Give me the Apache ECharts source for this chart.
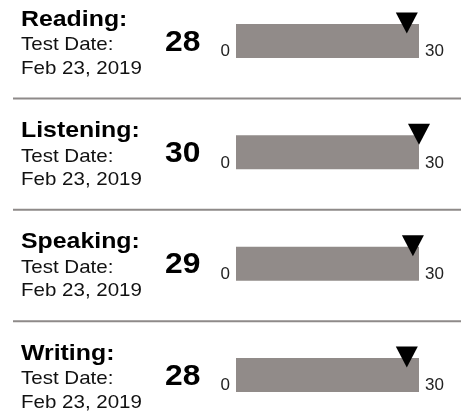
<!DOCTYPE html>
<html>
<head>
<meta charset="utf-8">
<script src="https://cdn.jsdelivr.net/npm/echarts@6/dist/echarts.min.js"></script>
<style>
html,body{margin:0;padding:0;background:#fff;}
#chart{width:461px;height:419px;}
</style>
</head>
<body>
<div id="chart"></div>
<script>
// ---- data ----
const subjects = ['Reading:', 'Listening:', 'Speaking:', 'Writing:'];
const dateCaption = 'Test Date:';
const testDates = ['Feb 23, 2019', 'Feb 23, 2019', 'Feb 23, 2019', 'Feb 23, 2019'];
const scores = [28, 30, 29, 28];
const scaleMin = 0;
const scaleMax = 30;
const tickValues = [0, 30];
const tickLabels = ['0', '30'];

// ---- layout ----
const PANEL_STEP = 111.33;
const BAR_TOP = 24;
const BAR_H = 34;
const BAR_LEFT = 236;
const BAR_W = 183;
const FONT = '"Liberation Sans", Arial, Helvetica, sans-serif';
const BAR_COLOR = '#918b89';
const RULE_COLOR = '#8e8a89';

const grids = [], xAxes = [], yAxes = [], series = [], graphics = [];

subjects.forEach((name, i) => {
  const dy = i * PANEL_STEP;
  grids.push({ left: BAR_LEFT, top: BAR_TOP + dy, width: BAR_W, height: BAR_H, containLabel: false });
  xAxes.push({
    gridIndex: i, type: 'value', min: scaleMin, max: scaleMax, interval: scaleMax - scaleMin,
    axisLine: { show: false }, axisTick: { show: false }, splitLine: { show: false },
    axisLabel: {
      show: true, margin: -6.5, verticalAlign: 'middle', padding: [0, 6, 0, 6],
      alignMinLabel: 'right', alignMaxLabel: 'left',
      fontFamily: FONT, fontSize: 17, color: '#222',
      formatter: v => {
        const k = tickValues.indexOf(v);
        return k < 0 ? '' : tickLabels[k];
      }
    }
  });
  yAxes.push({ gridIndex: i, type: 'category', data: [name], show: false });
  series.push({
    type: 'bar', xAxisIndex: i, yAxisIndex: i, data: [scaleMax], barWidth: BAR_H,
    itemStyle: { color: BAR_COLOR }, silent: true, animation: false
  });
  series.push({
    type: 'scatter', xAxisIndex: i, yAxisIndex: i, data: [scores[i]],
    symbol: 'triangle', symbolRotate: 180, symbolSize: [22, 21], symbolOffset: [0, -18],
    itemStyle: { color: '#000', opacity: 1 }, silent: true, animation: false, z: 5
  });

  // texts
  graphics.push({ type: 'text', x: 21, y: 19.5 + dy, scaleX: 1.13,
    style: { text: name, font: 'bold 22px ' + FONT, fill: '#000', verticalAlign: 'middle' } });
  graphics.push({ type: 'text', x: 21, y: 45 + dy, scaleX: 1.08,
    style: { text: dateCaption, font: '19px ' + FONT, fill: '#111', verticalAlign: 'middle' } });
  graphics.push({ type: 'text', x: 21, y: 68.5 + dy, scaleX: 1.08,
    style: { text: testDates[i], font: '19px ' + FONT, fill: '#111', verticalAlign: 'middle' } });
  graphics.push({ type: 'text', x: 165, y: 42.5 + dy, scaleX: 1.06,
    style: { text: String(scores[i]), font: 'bold 30px ' + FONT, fill: '#000', verticalAlign: 'middle' } });

  if (i < subjects.length - 1) {
    graphics.push({ type: 'line', shape: { x1: 13, y1: 98.5 + dy, x2: 461, y2: 98.5 + dy },
      style: { stroke: RULE_COLOR, lineWidth: 2 } });
  }
});

const chart = echarts.init(document.getElementById('chart'), null, { renderer: 'canvas' });
chart.setOption({
  animation: false,
  backgroundColor: '#fff',
  grid: grids, xAxis: xAxes, yAxis: yAxes, series: series,
  graphic: graphics
});
</script>
</body>
</html>
